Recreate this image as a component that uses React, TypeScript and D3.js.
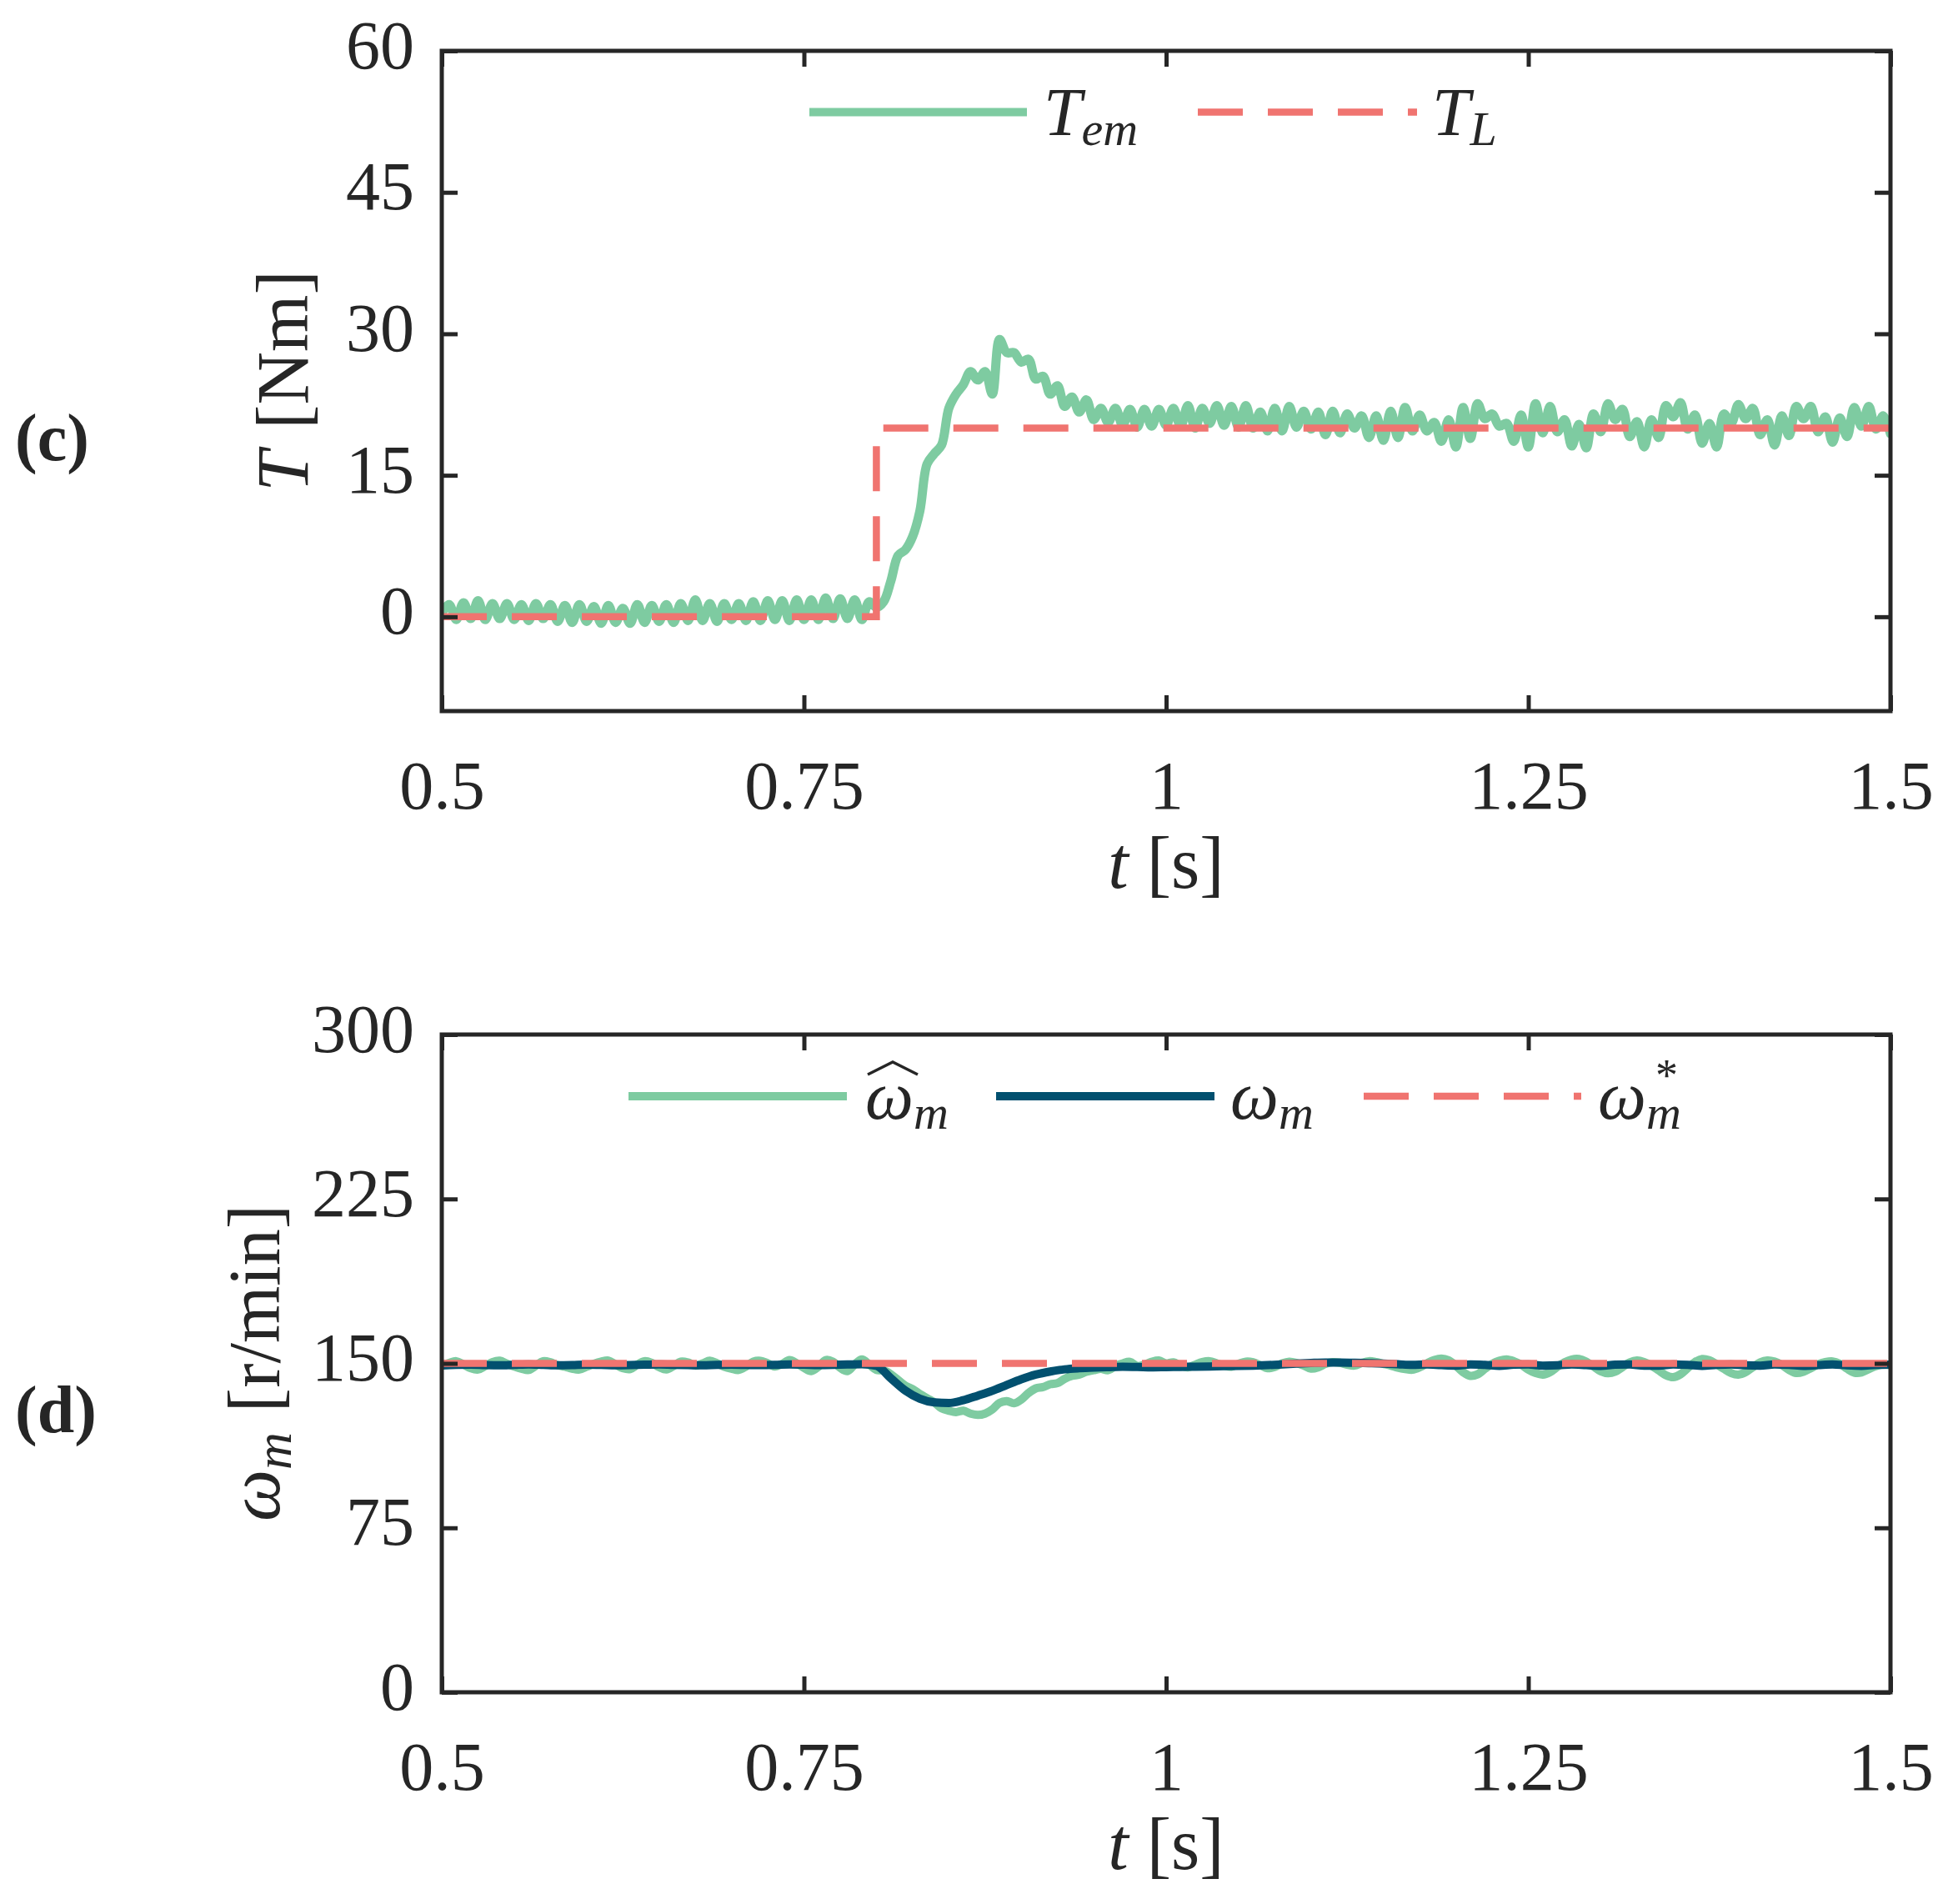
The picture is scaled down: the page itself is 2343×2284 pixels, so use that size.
import React, { useRef, useEffect } from "react";
import * as d3 from "d3";

const W = 2343;
const H = 2284;

const INK = "#262626";
const GREEN = "#7ECBA1";
const RED = "#F07470";
const NAVY = "#02506F";
const FONT = "'Liberation Serif', 'Times New Roman', serif";

// shared time axis
const timeDomain = [0.5, 1.5];
const timeTicks = [0.5, 0.75, 1, 1.25, 1.5];

// panel (c): torque
const torqueDomain = [-10, 60];
const torqueTicks = [0, 15, 30, 45, 60];

// panel (d): speed
const speedDomain = [0, 300];
const speedTicks = [0, 75, 150, 225, 300];

// sampled traces start at 0.5 s
const sampleStart = 0.5;
const sampleStep = 0.005; // T_em and estimated speed
const measStep = 0.01; // measured speed

// T_em [Nm]
const torqueEm = [
  0.4, 1.3, -0.3, 1.5, -0.2, 1.7, -0.3, 1.4, -0.2, 1.4,
  -0.3, 1.3, -0.4, 1.4, -0.2, 1.3, -0.5, 1.2, -0.6, 1.3,
  -0.5, 1.1, -0.7, 1.2, -0.6, 0.9, -0.7, 1.3, -0.6, 1.2,
  -0.5, 1.3, -0.6, 1.4, -0.4, 1.8, -0.4, 1.4, -0.5, 1.4,
  -0.3, 1.4, -0.4, 1.6, -0.4, 1.7, -0.3, 1.7, -0.4, 1.8,
  -0.3, 1.8, -0.3, 2.0, -0.2, 1.9, -0.2, 1.8, -0.3, 1.6,
  1.0, 1.6, 3.8, 6.5, 7.1, 8.5, 11.2, 16.2, 17.3, 18.2,
  22.1, 23.6, 24.6, 26.0, 25.1, 26.0, 23.6, 29.4, 28.0, 28.0,
  27.0, 27.3, 25.2, 25.5, 23.6, 24.5, 22.3, 23.3, 21.7, 23.0,
  20.9, 22.1, 20.6, 22.1, 20.3, 22.0, 20.1, 22.0, 20.2, 22.0,
  20.3,
  22.1, 20.2, 22.4, 20.0, 22.1, 20.5, 22.4, 20.3, 22.3, 20.1,
  22.4, 20.0, 21.7, 19.7, 22.1, 19.7, 22.3, 20.1, 21.8, 19.9,
  21.7, 19.3, 21.8, 19.5, 21.5, 20.0, 21.3, 19.0, 21.3, 18.7,
  21.8, 19.0, 22.2, 19.7, 21.4, 19.7, 20.6, 18.6, 20.9, 18.0,
  22.2, 18.9, 22.6, 21.0, 21.5, 20.2, 20.5, 18.6, 21.4, 18.0,
  22.6, 19.5, 22.3, 19.6, 20.9, 18.1, 20.4, 17.9, 21.5, 19.6,
  22.6, 20.9, 22.0, 19.1, 20.7, 18.0, 20.9, 19.0, 22.4, 21.2,
  22.7, 19.9, 21.4, 18.4, 20.5, 18.0, 21.5, 20.5, 22.5, 21.0,
  22.1, 19.3, 20.9, 18.2, 21.3, 19.2, 22.3, 21.0, 22.3, 19.6,
  21.2, 18.5, 21.1, 19.1, 22.2, 20.2, 22.3, 19.9, 21.3, 19.4,
];

// T_L [Nm]
const loadTime = [0.5, 0.8, 0.8, 1.5];
const loadTorque = [0, 0, 20, 20];

// estimated speed [r/min]
const speedEst = [
  149.0, 150.2, 151.0, 149.5, 147.8, 147.2, 148.8, 150.6, 151.2, 149.8,
  148.6, 147.6, 147.0, 149.0, 151.0, 150.5, 149.2, 148.5, 147.6, 147.2,
  148.5, 149.8, 150.8, 151.3, 149.5, 147.8, 147.4, 149.5, 151.0, 150.2,
  148.3, 147.2, 148.8, 150.8, 150.4, 149.0, 150.0, 151.2, 150.0, 148.5,
  147.6, 147.0, 148.6, 150.8, 151.2, 150.0, 148.6, 149.8, 151.5, 150.0,
  148.0, 146.5, 148.5, 151.5, 150.8, 148.0, 146.5, 149.5, 151.8, 149.5,
  147.0, 146.8, 145.0, 142.4, 139.8, 138.3, 136.0, 134.1, 132.2, 129.5,
  128.4, 127.8, 128.4, 127.1, 126.5, 127.1, 129.0, 132.0, 132.8, 131.8,
  133.5, 136.5, 138.6, 139.2, 140.5, 141.0, 143.0, 144.3, 144.9, 146.2,
  146.9, 147.5, 146.9, 148.8, 150.0, 150.7, 148.8, 149.4, 150.7, 151.3,
  150.0, 150.5, 149.0, 148.2, 149.4, 150.6, 151.0, 150.0, 149.0, 148.5,
  149.8, 150.8, 150.5, 149.2, 147.8, 148.4, 150.0, 150.8, 150.2, 149.0,
  147.6, 148.2, 149.8, 150.6, 150.3, 149.4, 149.0, 150.2, 151.0, 150.6,
  149.8, 149.0, 148.0, 147.4, 147.1, 148.2, 150.0, 151.5, 152.2, 151.4,
  149.0, 146.0, 144.3, 145.0, 147.5, 149.8, 151.2, 151.8, 151.0, 149.5,
  147.2, 145.6, 144.9, 146.0, 148.4, 150.5, 151.8, 152.0, 150.8, 148.6,
  146.4, 145.5, 146.2, 148.3, 150.4, 151.3, 150.6, 149.0, 146.8, 144.6,
  143.7, 145.0, 147.8, 150.6, 152.0, 151.4, 149.6, 147.5, 145.6, 144.9,
  146.0, 148.3, 150.4, 151.3, 150.8, 149.3, 147.0, 145.6, 146.2, 147.8,
  149.6, 150.6, 150.9, 149.8, 147.6, 145.8, 145.9, 147.4, 148.8, 149.5,
  149.2,
];

// measured speed [r/min]
const speedMeas = [
  149.0, 149.3, 149.4, 149.2, 149.1, 149.3, 149.5, 149.3, 149.1, 149.2,
  149.4, 149.3, 149.1, 149.2, 149.4, 149.5, 149.3, 149.2, 149.1, 149.3,
  149.4, 149.3, 149.2, 149.3, 149.5, 149.4, 149.2, 149.3, 149.5, 149.6,
  148.9, 143.2, 137.6, 133.9, 132.2, 131.9, 133.2, 135.3, 137.5, 140.2,
  142.8, 144.9, 146.3, 147.3, 147.8, 148.1, 148.3, 148.5, 148.4, 148.2,
  148.3,
  148.4, 148.5, 148.6, 148.8, 148.9, 149.0, 149.2, 149.5, 149.9, 150.2,
  150.4, 150.4, 150.3, 150.1, 149.9, 149.6, 149.3, 149.5, 149.2, 149.0,
  149.5, 149.3, 148.9, 149.4, 149.5, 149.0, 149.1, 149.5, 149.2, 148.9,
  149.4, 149.5, 149.0, 149.0, 149.5, 149.3, 148.9, 149.3, 149.5, 149.1,
  149.0, 149.5, 149.3, 148.9, 149.2, 149.5, 149.1, 148.9, 149.3, 149.4,
];

// reference speed [r/min]
const refTime = [0.5, 1.5];
const refSpeed = [150, 150];

type Sel = d3.Selection<SVGGElement, unknown, null, undefined>;

function drawAxes(g: Sel, x: d3.ScaleLinear<number, number>, y: d3.ScaleLinear<number, number>, yTicks: number[]) {
  const [x0, x1] = x.range();
  const [yb, yt] = y.range();

  const style = (a: Sel) => {
    a.select(".domain").remove();
    a.selectAll("line").attr("stroke", INK).attr("stroke-width", 5);
    a.selectAll("text")
      .attr("fill", INK)
      .attr("font-family", FONT)
      .attr("font-size", 82)
      .attr("dy", null);
  };

  g.append("g")
    .attr("transform", `translate(0,${yb})`)
    .call(d3.axisBottom(x).tickValues(timeTicks).tickSize(-19).tickFormat((d) => String(d)))
    .call(style)
    .call((a) => a.selectAll("text").attr("y", 117));

  g.append("g")
    .attr("transform", `translate(0,${yt})`)
    .call(d3.axisTop(x).tickValues(timeTicks).tickSize(-19).tickFormat(() => ""))
    .call(style);

  g.append("g")
    .attr("transform", `translate(${x0},0)`)
    .call(d3.axisLeft(y).tickValues(yTicks).tickSize(-19).tickPadding(33).tickFormat((d) => String(d)))
    .call(style)
    .call((a) => a.selectAll("text").attr("y", 20));

  g.append("g")
    .attr("transform", `translate(${x1},0)`)
    .call(d3.axisRight(y).tickValues(yTicks).tickSize(-19).tickFormat(() => ""))
    .call(style);

  g.append("rect")
    .attr("x", x0)
    .attr("y", yt)
    .attr("width", x1 - x0)
    .attr("height", yb - yt)
    .attr("fill", "none")
    .attr("stroke", INK)
    .attr("stroke-width", 5);
}

const App: React.FC = () => {
  const svgRef = useRef<SVGSVGElement | null>(null);

  useEffect(() => {
    const svg = d3.select(svgRef.current);
    svg.selectAll("*").remove();

    const x = d3.scaleLinear().domain(timeDomain).range([530, 2268]);
    const yT = d3.scaleLinear().domain(torqueDomain).range([853, 61]);
    const yW = d3.scaleLinear().domain(speedDomain).range([2030, 1241]);

    const defs = svg.append("defs");
    [["clipT", yT], ["clipW", yW]].forEach(([id, y]: any) => {
      const [yb, yt] = y.range();
      defs
        .append("clipPath")
        .attr("id", id)
        .append("rect")
        .attr("x", 530)
        .attr("y", yt)
        .attr("width", 2268 - 530)
        .attr("height", yb - yt);
    });

    const sampled = (step: number, y: d3.ScaleLinear<number, number>) =>
      d3
        .line<number>()
        .x((_, i) => x(sampleStart + i * step))
        .y((d) => y(d));

    const paired = (times: number[], y: d3.ScaleLinear<number, number>) =>
      d3
        .line<number>()
        .x((_, i) => x(times[i]))
        .y((d) => y(d));

    // ---- panel (c)
    const gc = svg.append("g");
    const pc = gc.append("g").attr("clip-path", "url(#clipT)");
    pc.append("path")
      .attr("d", sampled(sampleStep, yT).curve(d3.curveCatmullRom.alpha(0.5))(torqueEm))
      .attr("fill", "none")
      .attr("stroke", GREEN)
      .attr("stroke-width", 11)
      .attr("stroke-linejoin", "round")
      .attr("stroke-linecap", "round");
    pc.append("path")
      .attr("d", paired(loadTime, yT)(loadTorque))
      .attr("fill", "none")
      .attr("stroke", RED)
      .attr("stroke-width", 8.5)
      .attr("stroke-dasharray", "54 30");
    drawAxes(gc, x, yT, torqueTicks);

    // ---- panel (d)
    const gd = svg.append("g");
    const pd = gd.append("g").attr("clip-path", "url(#clipW)");
    pd.append("path")
      .attr("d", sampled(sampleStep, yW).curve(d3.curveCatmullRom.alpha(0.5))(speedEst))
      .attr("fill", "none")
      .attr("stroke", GREEN)
      .attr("stroke-width", 10)
      .attr("stroke-linejoin", "round");
    pd.append("path")
      .attr("d", sampled(measStep, yW).curve(d3.curveMonotoneX)(speedMeas))
      .attr("fill", "none")
      .attr("stroke", NAVY)
      .attr("stroke-width", 10)
      .attr("stroke-linejoin", "round");
    pd.append("path")
      .attr("d", paired(refTime, yW)(refSpeed))
      .attr("fill", "none")
      .attr("stroke", RED)
      .attr("stroke-width", 8.5)
      .attr("stroke-dasharray", "54 30");
    drawAxes(gd, x, yW, speedTicks);

    // ---- labels
    const txt = (g: any, x0: number, y0: number, size = 88) =>
      g
        .append("text")
        .attr("x", x0)
        .attr("y", y0)
        .attr("font-family", FONT)
        .attr("font-size", size)
        .attr("fill", INK);

    // x labels
    [1065, 2242].forEach((yy) => {
      const t = txt(svg, 1399, yy).attr("text-anchor", "middle");
      t.append("tspan").attr("font-style", "italic").text("t");
      t.append("tspan").attr("dx", 22).text("[s]");
    });

    // y label (c)
    const ylc = svg
      .append("text")
      .attr("transform", "translate(369,457) rotate(-90)")
      .attr("text-anchor", "middle")
      .attr("font-family", FONT)
      .attr("font-size", 88)
      .attr("fill", INK);
    ylc.append("tspan").attr("font-style", "italic").text("T");
    ylc.append("tspan").attr("dx", 26).text("[Nm]");

    // y label (d)
    const yld = svg
      .append("text")
      .attr("transform", "translate(335,1635) rotate(-90)")
      .attr("text-anchor", "middle")
      .attr("font-family", FONT)
      .attr("font-size", 88)
      .attr("fill", INK);
    yld.append("tspan").attr("font-style", "italic").text("ω");
    yld.append("tspan").attr("font-style", "italic").attr("font-size", 62).attr("dy", 14).text("m");
    yld.append("tspan").attr("dy", -14).attr("dx", 24).text("[r/min]");

    // panel tags
    txt(svg, 18, 552, 80).attr("font-weight", "bold").text("(c)");
    txt(svg, 18, 1718, 80).attr("font-weight", "bold").text("(d)");

    // ---- legend (c)
    const legLine = (x0: number, x1: number, yy: number, color: string, dashed: boolean) =>
      svg
        .append("line")
        .attr("x1", x0)
        .attr("x2", x1)
        .attr("y1", yy)
        .attr("y2", yy)
        .attr("stroke", color)
        .attr("stroke-width", dashed ? 8.5 : 10)
        .attr("stroke-dasharray", dashed ? "54 30" : null);

    legLine(971, 1232, 134.5, GREEN, false);
    const lt1 = txt(svg, 1252, 162, 82);
    lt1.append("tspan").attr("font-style", "italic").text("T");
    lt1.append("tspan").attr("font-style", "italic").attr("font-size", 58).attr("dy", 12).text("em");

    legLine(1437, 1700, 134.5, RED, true);
    const lt2 = txt(svg, 1718, 162, 82);
    lt2.append("tspan").attr("font-style", "italic").text("T");
    lt2.append("tspan").attr("font-style", "italic").attr("font-size", 58).attr("dy", 12).text("L");

    // ---- legend (d)
    legLine(754, 1016, 1315, GREEN, false);
    const lw1 = txt(svg, 1038, 1342, 82);
    lw1.append("tspan").attr("font-style", "italic").text("ω");
    lw1.append("tspan").attr("font-style", "italic").attr("font-size", 58).attr("dy", 12).text("m");
    svg
      .append("path")
      .attr("d", "M1041,1289 L1071,1274 L1101,1289")
      .attr("fill", "none")
      .attr("stroke", INK)
      .attr("stroke-width", 3.5);

    legLine(1195, 1457, 1315, NAVY, false);
    const lw2 = txt(svg, 1476, 1342, 82);
    lw2.append("tspan").attr("font-style", "italic").text("ω");
    lw2.append("tspan").attr("font-style", "italic").attr("font-size", 58).attr("dy", 12).text("m");

    legLine(1636, 1897, 1315, RED, true);
    const lw3 = txt(svg, 1917, 1342, 82);
    lw3.append("tspan").attr("font-style", "italic").text("ω");
    lw3.append("tspan").attr("font-style", "italic").attr("font-size", 58).attr("dy", 12).text("m");
    // superscript star, stacked above the subscript
    txt(svg, 1986, 1308, 54).text("*");
  }, []);

  return (
    <svg
      ref={svgRef}
      width={W}
      height={H}
      style={{ position: "absolute", left: 0, top: 0, background: "#fff", display: "block" }}
    />
  );
};

export default App;
